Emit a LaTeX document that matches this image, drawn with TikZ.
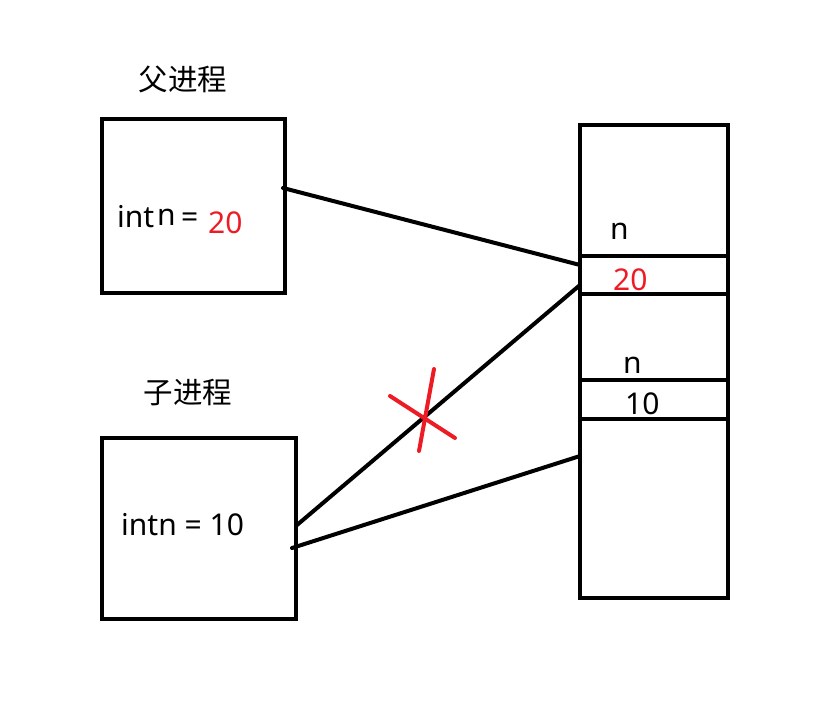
\documentclass[tikz,border=0pt]{standalone}
\usepackage{fontspec}
\setmainfont{Noto Sans}
\newfontfamily\cjk{Noto Sans CJK SC}
\definecolor{paintred}{RGB}{237,28,36}
\tikzset{
  box/.style={draw=black, line width=4.6pt, inner sep=0pt},
  conn/.style={draw=black, line width=4pt, line cap=round},
  cross/.style={draw=paintred, line width=4pt, line cap=round},
  lbl/.style={inner sep=0pt, font=\fontsize{30}{33}\selectfont},
  title/.style={inner sep=0pt, font=\cjk\fontsize{29.5}{33}\selectfont},
}
\begin{document}
\begin{tikzpicture}[x=1pt,y=-1pt]
\useasboundingbox (0,0) rectangle (837,714);
% titles
\node[title] (pt) at (183,79) {父进程};
\node[title] (ct) at (188,392) {子进程};
% process boxes
\draw[box] (102,119) rectangle (285,293);
\node[inner sep=0pt] (parent) at (193.5,206) {};
\draw[box] (102,438) rectangle (296,619);
\node[inner sep=0pt] (child) at (199,528.5) {};
% memory box
\draw[box] (580,125) rectangle (728,598);
\draw[box] (580,256) -- (728,256);
\draw[box] (580,294) -- (728,294);
\draw[box] (580,380) -- (728,380);
\draw[box] (580,419) -- (728,419);
% texts in parent
\node[lbl, anchor=base west] (p1) at (117,227) {int};
\node[lbl, anchor=base west] (p2) at (157,225) {n};
\node[lbl, anchor=base west] (p3) at (181,227) {=};
\node[lbl, anchor=base west, text=paintred] (p4) at (208,233) {20};
% text in child
\node[lbl, anchor=base west] (c1) at (121,535) {intn = 10};
% memory texts
\node[lbl, anchor=base west] (m1) at (610,239) {n};
\node[lbl, anchor=base west, text=paintred] (m2) at (613,290) {20};
\node[lbl, anchor=base west] (m3) at (623,373) {n};
\node[lbl, anchor=base west] (m4) at (625,414) {10};
% connector endpoints
\coordinate (pA) at (283,188);
\coordinate (mA) at (580,265);
\coordinate (cA) at (297,525);
\coordinate (mB) at (580,285);
\coordinate (cB) at (292,548);
\coordinate (mC) at (580,456);
\draw[conn] (pA) -- (mA);
\draw[conn] (cA) -- (mB);
\draw[conn] (cB) -- (mC);
% red cross
\coordinate (x1) at (390,396);
\coordinate (x2) at (455,438);
\coordinate (x3) at (434,369);
\coordinate (x4) at (419,451);
\draw[cross] (x1) -- (x2);
\draw[cross] (x3) -- (x4);
\end{tikzpicture}
\end{document}
